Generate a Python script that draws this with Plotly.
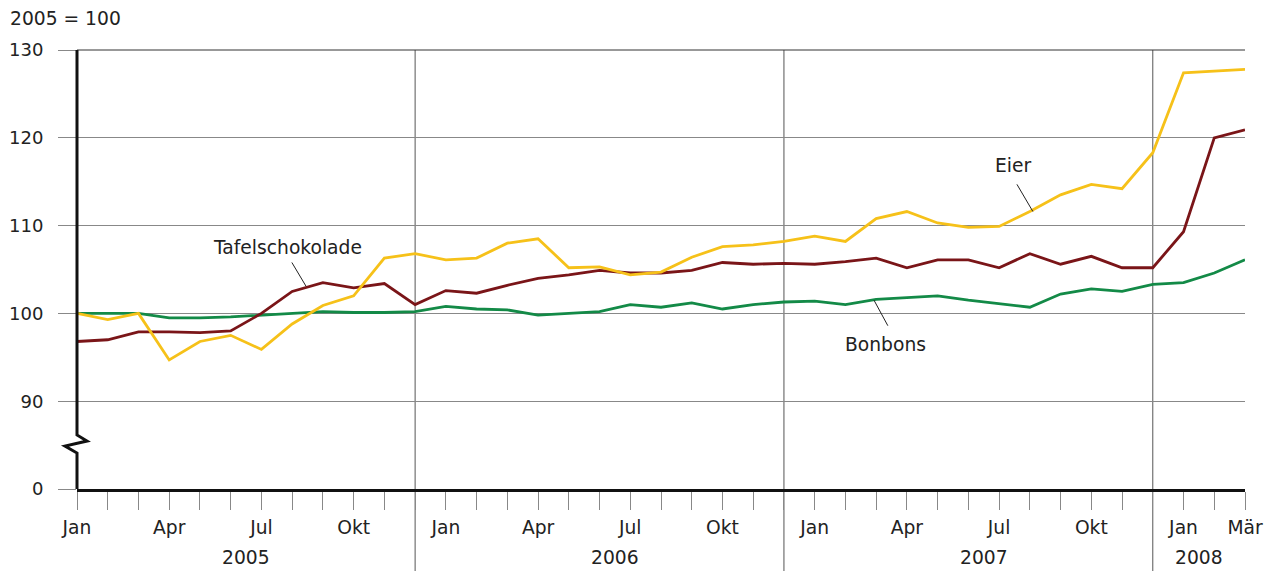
import plotly.graph_objects as go

# ---- data ----
month_names = ["Jan", "Feb", "Mär", "Apr", "Mai", "Jun", "Jul", "Aug", "Sep", "Okt", "Nov", "Dez"]
years = ["2005", "2006", "2007", "2008"]
n_months = 39  # Jan 2005 .. Mär 2008

eier = [100.0, 99.3, 100.0, 94.7, 96.8, 97.5, 95.9, 98.8, 100.9, 102.0, 106.3, 106.8,
        106.1, 106.3, 108.0, 108.5, 105.2, 105.3, 104.4, 104.7, 106.4, 107.6, 107.8, 108.2,
        108.8, 108.2, 110.8, 111.6, 110.3, 109.8, 109.9, 111.6, 113.5, 114.7, 114.2, 118.3,
        127.4, 127.6, 127.8]

tafelschokolade = [96.8, 97.0, 97.9, 97.9, 97.8, 98.0, 100.0, 102.5, 103.5, 102.9, 103.4, 101.0,
                   102.6, 102.3, 103.2, 104.0, 104.4, 104.9, 104.6, 104.6, 104.9, 105.8, 105.6, 105.7,
                   105.6, 105.9, 106.3, 105.2, 106.1, 106.1, 105.2, 106.8, 105.6, 106.5, 105.2, 105.2,
                   109.3, 120.0, 120.9]

bonbons = [100.0, 100.0, 100.0, 99.5, 99.5, 99.6, 99.8, 100.0, 100.2, 100.1, 100.1, 100.2,
           100.8, 100.5, 100.4, 99.8, 100.0, 100.2, 101.0, 100.7, 101.2, 100.5, 101.0, 101.3,
           101.4, 101.0, 101.6, 101.8, 102.0, 101.5, 101.1, 100.7, 102.2, 102.8, 102.5, 103.3,
           103.5, 104.6, 106.1]

y_tickvals = [80, 90, 100, 110, 120, 130]
y_ticktext = ["0", "90", "100", "110", "120", "130"]

x = list(range(n_months))
x_ticktext = [month_names[i % 12] if (i % 12) in (0, 3, 6, 9) or i == n_months - 1 else ""
              for i in range(n_months)]

FONT = "DejaVu Sans, Liberation Sans, Arial, sans-serif"
FS = 18.7
TXT = "#222222"
YELLOW = "#F6C119"
RED = "#7A1518"
GREEN = "#138A47"

fig = go.Figure()
fig.add_trace(go.Scatter(x=x, y=bonbons, mode="lines", line=dict(color=GREEN, width=2.8),
                         name="Bonbons", hoverinfo="skip"))
fig.add_trace(go.Scatter(x=x, y=tafelschokolade, mode="lines", line=dict(color=RED, width=2.8),
                         name="Tafelschokolade", hoverinfo="skip"))
fig.add_trace(go.Scatter(x=x, y=eier, mode="lines", line=dict(color=YELLOW, width=2.8),
                         name="Eier", hoverinfo="skip"))

# the page body has an 8px margin, so the figure starts at (8, 8) on screen
OFF = 8
SW, SH = 1275, 571
W, H = SW - OFF, SH - OFF
PL, PR, PT, PB = 77, 1245, 50, 489   # plot area in screen pixels
L, R, T, B = PL - OFF, SW - PR, PT - OFF, SH - PB
pw, ph = PR - PL, PB - PT

def px2paper_x(px):
    return (px - PL) / pw

def px2paper_y(py):
    return (PB - py) / ph

shapes = []
# year separators at December positions
for xv in (11, 23, 35):
    shapes.append(dict(type="line", xref="x", yref="paper", x0=xv, x1=xv,
                       y0=px2paper_y(SH), y1=1, line=dict(color="#555555", width=1),
                       layer="below"))
# top border line
shapes.append(dict(type="line", xref="paper", yref="paper", x0=0, x1=1, y0=1, y1=1,
                   line=dict(color="#333333", width=1)))
# y axis with break
pts = [(77, 50), (77, 435), (87, 441), (65, 446), (77, 453), (77, 489)]
path = "M " + " L ".join(f"{px2paper_x(a):.5f},{px2paper_y(b):.5f}" for a, b in pts)
shapes.append(dict(type="path", xref="paper", yref="paper", path=path,
                   line=dict(color="#111111", width=3)))
# leader lines
for (x0, y0, x1, y1) in [(6.99, 105.8, 7.45, 103.1),
                         (30.58, 114.7, 31.10, 111.6),
                         (25.93, 101.5, 26.38, 98.6)]:
    shapes.append(dict(type="line", xref="x", yref="y", x0=x0, y0=y0, x1=x1, y1=y1,
                       line=dict(color="#222222", width=1)))

annotations = [
    dict(text="2005 = 100", xref="paper", yref="paper", x=px2paper_x(8), y=px2paper_y(19),
         xanchor="left", yanchor="middle", showarrow=False),
    dict(text="Tafelschokolade", xref="x", yref="y", x=6.86, y=107.5, showarrow=False,
         xanchor="center", yanchor="middle"),
    dict(text="Eier", xref="x", yref="y", x=30.45, y=116.9, showarrow=False,
         xanchor="center", yanchor="middle"),
    dict(text="Bonbons", xref="x", yref="y", x=26.32, y=96.5, showarrow=False,
         xanchor="center", yanchor="middle"),
]
for yr, xc in zip(years, (5.5, 17.5, 29.5, 36.5)):
    annotations.append(dict(text=yr, xref="x", yref="paper", x=xc, y=px2paper_y(557),
                            showarrow=False, xanchor="center", yanchor="middle"))

fig.update_layout(
    width=W, height=H,
    margin=dict(l=L, r=R, t=T, b=B, pad=0, autoexpand=False),
    paper_bgcolor="white", plot_bgcolor="white",
    font=dict(family=FONT, size=FS, color=TXT),
    showlegend=False,
    shapes=shapes,
    annotations=annotations,
    xaxis=dict(range=[0, n_months - 1], tickmode="array", tickvals=x, ticktext=x_ticktext,
               automargin=False,
               showgrid=False, zeroline=False, showline=True, linecolor="#111111", linewidth=3,
               ticks="outside", ticklen=18, tickcolor="#888888", tickwidth=1,
               ticklabelstandoff=2, tickfont=dict(family=FONT, size=FS, color=TXT)),
    yaxis=dict(range=[80, 130], tickmode="array", tickvals=y_tickvals, ticktext=y_ticktext,
               automargin=False,
               showgrid=True, gridcolor="#888888", gridwidth=1, zeroline=False, showline=False,
               ticks="outside", ticklen=18, tickcolor="#888888", tickwidth=1,
               ticklabelstandoff=11, tickfont=dict(family=FONT, size=18, color=TXT)),
)

fig.write_html("out.html")
